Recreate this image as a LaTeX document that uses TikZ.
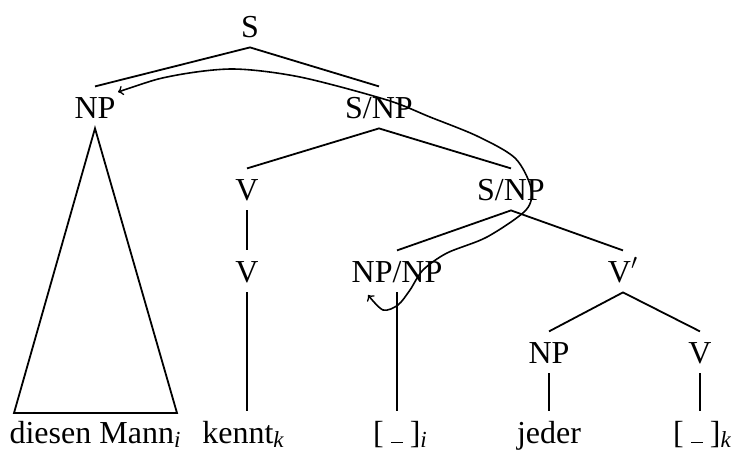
\documentclass[tikz,border=0pt]{standalone}
\usepackage{fontspec}
\setmainfont{Liberation Serif}
\newcommand{\subsc}[1]{\raisebox{-2pt}{\fontsize{11.5}{12}\selectfont\itshape #1}}
\newcommand{\gapsym}{[\hspace{3.5pt}\rule[0pt]{6pt}{0.75pt}\hspace{3.5pt}]}
\begin{document}
\begin{tikzpicture}[x=0.5pt,y=0.5pt,
  font=\fontsize{16}{19}\selectfont,
  lab/.style={anchor=base, text height=10.6pt, text depth=0pt, inner ysep=5pt, inner xsep=0pt},
  edge/.style={line width=0.9pt},
  movearc/.style={line width=0.8pt, <->, >=to}]
\useasboundingbox (0,0) rectangle (734,-450);
% nodes
\node[lab] (S)    at (250,-37)  {S};
\node[lab] (NPa)  at (95,-118)  {NP};
\node[lab] (SNPa) at (379,-118) {S/NP};
\node[lab] (Va)   at (247,-200) {V};
\node[lab] (SNPb) at (511,-200) {S/NP};
\node[lab] (Vb)   at (247,-282) {V};
\node[lab] (NPNP) at (397,-282) {NP/NP};
\node[lab] (Vbar) at (623,-282) {V$'$};
\node[lab] (NPb)  at (549,-363) {NP};
\node[lab] (Vc)   at (700,-363) {V};
\node[lab] (dm)   at (95,-443)  {diesen Mann\subsc{i}};
\node[lab] (kk)   at (243,-443) {kennt\subsc{k}};
\node[lab] (gi)   at (400,-443) {\gapsym\subsc{i}};
\node[lab] (je)   at (549,-443) {jeder};
\node[lab] (gk)   at (702,-443) {\gapsym\subsc{k}};
% triangle corners
\coordinate (tl) at (14,-413);
\coordinate (tr) at (177,-413);
% tree edges
\draw[edge] (NPa.north) -- (S.south) -- (SNPa.north);
\draw[edge] (Va.north) -- (SNPa.south) -- (SNPb.north);
\draw[edge] (Va.south) -- (Vb.north);
\draw[edge] (NPNP.north) -- (SNPb.south) -- (Vbar.north);
\draw[edge] (NPb.north) -- (Vbar.south) -- (Vc.north);
\draw[edge, line join=miter] (NPa.south) -- (tl) -- (tr) -- cycle;
\draw[edge] (Vb.south) -- (Vb.south |- kk.north);
\draw[edge] (NPNP.south) -- (NPNP.south |- gi.north);
\draw[edge] (NPb.south) -- (NPb.south |- je.north);
\draw[edge] (Vc.south) -- (Vc.south |- gk.north);
% movement arc
\coordinate (arcA) at (118,-92);
\coordinate (arcB) at (368,-295);
\draw[movearc] plot[smooth, tension=0.5] coordinates {(arcA) (172,-76) (233,-69) (300,-77) (387,-100) (430,-117) (477,-136) (515,-158) (531,-188) (526,-210) (487,-237) (447,-253) (423,-270) (410,-290) (398,-305) (383,-310) (arcB)};
\end{tikzpicture}
\end{document}
